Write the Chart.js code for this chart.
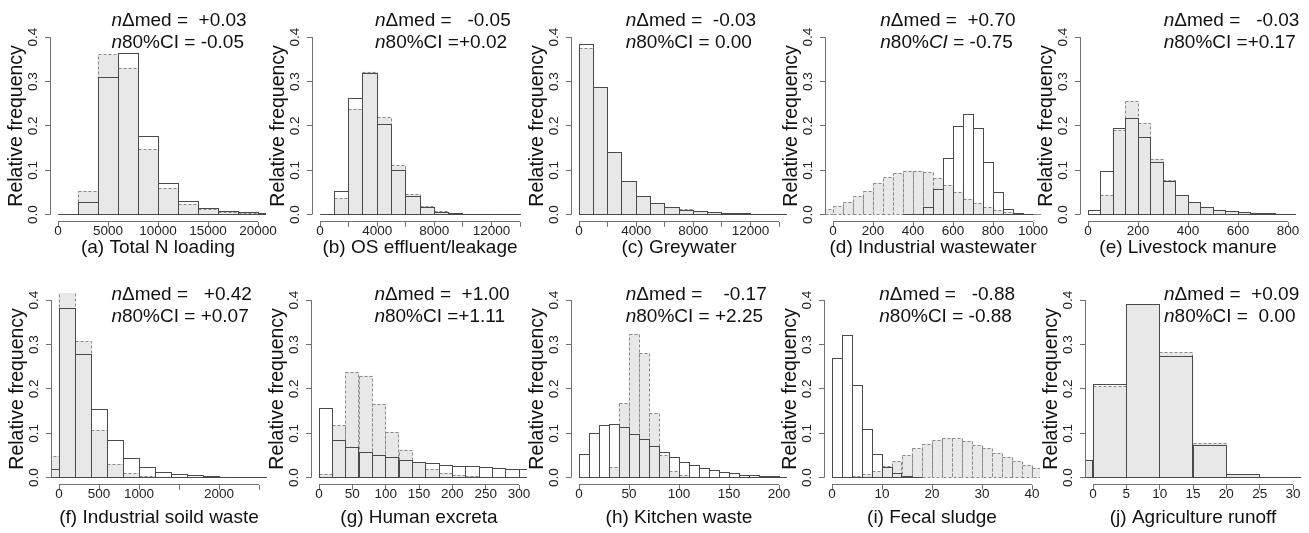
<!DOCTYPE html>
<html>
<head>
<meta charset="utf-8">
<title>Relative frequency histograms</title>
<script src="https://cdn.jsdelivr.net/npm/chart.js@4.4.1/dist/chart.umd.min.js"></script>
<style>
  html, body { margin: 0; padding: 0; background: #fff; }
  body { width: 1309px; height: 533px; position: relative; overflow: hidden; }
  canvas { position: absolute; }
</style>
</head>
<body>
<script>
// lower bin edges, open-bar heights (solid) and grey-bar heights (dashed)
const aBins = [0, 2000, 4000, 6000, 8000, 10000, 12000, 14000, 16000, 18000, 20000];
const aSolid = [0, 0.027, 0.308, 0.363, 0.176, 0.071, 0.029, 0.013, 0.007, 0.004, 0.002];
const aDashed = [0, 0.053, 0.360, 0.330, 0.147, 0.059, 0.023, 0.011, 0.005, 0.003, 0.0015];
const aTicks = [0, 5000, 10000, 15000, 20000];
const aTickLabels = ['0', '5000', '10000', '15000', '20000'];

const bBins = [0, 1000, 2000, 3000, 4000, 5000, 6000, 7000, 8000, 9000, 10000, 11000, 12000, 13000];
const bSolid = [0, 0.052, 0.261, 0.319, 0.203, 0.100, 0.041, 0.016, 0.005, 0.002, 0.001, 0.0005, 0.0003, 0.0002];
const bDashed = [0, 0.037, 0.238, 0.321, 0.218, 0.110, 0.046, 0.018, 0.007, 0.002, 0.001, 0.0005, 0.0003, 0.0002];
const bTicks = [0, 2000, 4000, 6000, 8000, 10000, 12000, 14000];
const bTickLabels = ['0', '', '4000', '', '8000', '', '12000', ''];

const cBins = [0, 1000, 2000, 3000, 4000, 5000, 6000, 7000, 8000, 9000, 10000, 11000, 12000, 13000, 14000];
const cSolid = [0.384, 0.286, 0.141, 0.074, 0.040, 0.026, 0.016, 0.0105, 0.007, 0.0045, 0.003, 0.002, 0.0015, 0.001, 0.0005];
const cDashed = [0.374, 0.286, 0.140, 0.075, 0.041, 0.026, 0.016, 0.011, 0.007, 0.0045, 0.003, 0.002, 0.0015, 0.001, 0.0005];
const cTicks = [0, 2000, 4000, 6000, 8000, 10000, 12000, 14000];
const cTickLabels = ['0', '', '4000', '', '8000', '', '12000', ''];

const dBins = [-50, 0, 50, 100, 150, 200, 250, 300, 350, 400, 450, 500, 550, 600, 650, 700, 750, 800, 850, 900, 950, 1000];
const dSolid = [null, null, null, null, null, null, null, null, 0.001, 0.001, 0.016, 0.056, 0.126, 0.198, 0.226, 0.194, 0.117, 0.050, 0.012, 0.002, 0.0005, null];
const dDashed = [0.011, 0.018, 0.028, 0.040, 0.053, 0.071, 0.083, 0.093, 0.098, 0.098, 0.094, 0.081, 0.066, 0.051, 0.035, 0.025, 0.016, 0.010, 0.005, 0.002, 0.001, 0.0005];
const dTicks = [0, 200, 400, 600, 800, 1000];
const dTickLabels = ['0', '200', '400', '600', '800', '1000'];

const eBins = [0, 50, 100, 150, 200, 250, 300, 350, 400, 450, 500, 550, 600, 650, 700, 750, 800];
const eSolid = [0.010, 0.098, 0.194, 0.216, 0.173, 0.118, 0.074, 0.043, 0.027, 0.016, 0.010, 0.007, 0.0045, 0.003, 0.002, 0.0015, 0.001];
const eDashed = [0, 0.044, 0.189, 0.256, 0.205, 0.125, 0.077, 0.044, 0.028, 0.0165, 0.0105, 0.007, 0.0045, 0.003, 0.002, 0.0015, 0.001];
const eTicks = [0, 200, 400, 600, 800];
const eTickLabels = ['0', '200', '400', '600', '800'];

const fBins = [-200, 0, 200, 400, 600, 800, 1000, 1200, 1400, 1600, 1800, 2000, 2200, 2400];
const fSolid = [0.019, 0.380, 0.278, 0.153, 0.084, 0.044, 0.024, 0.011, 0.007, 0.004, 0.002, 0.0015, 0.001, 0.0005];
const fDashed = [0.047, 0.425, 0.307, 0.106, 0.030, 0.009, 0.003, 0.001, 0.0005, 0.0003, 0.0002, 0.0001, 0, 0];
const fTicks = [0, 500, 1000, 1500, 2000, 2500];
const fTickLabels = ['0', '500', '1000', '', '2000', ''];

const gBins = [0, 20, 40, 60, 80, 100, 120, 140, 160, 180, 200, 220, 240, 260, 280, 300];
const gSolid = [0.156, 0.084, 0.067, 0.056, 0.050, 0.045, 0.038, 0.034, 0.031, 0.028, 0.026, 0.025, 0.0225, 0.020, 0.019, 0.018];
const gDashed = [0.0075, 0.1165, 0.237, 0.229, 0.165, 0.102, 0.062, 0.034, 0.018, 0.0105, 0.005, 0.003, 0.0015, 0.001, 0.0007, 0.0005];
const gTicks = [0, 50, 100, 150, 200, 250, 300];
const gTickLabels = ['0', '50', '100', '150', '200', '250', '300'];

const hBins = [0, 10, 20, 30, 40, 50, 60, 70, 80, 90, 100, 110, 120, 130, 140, 150, 160, 170, 180, 190, 200];
const hSolid = [0.052, 0.100, 0.118, 0.119, 0.113, 0.097, 0.085, 0.070, 0.056, 0.046, 0.035, 0.028, 0.021, 0.016, 0.012, 0.009, 0.006, 0.004, 0.003, 0.002, 0.001];
const hDashed = [null, null, 0, 0.023, 0.167, 0.323, 0.279, 0.144, 0.050, 0.013, 0.004, 0.001, 0.0005, 0, 0, 0, 0, 0, 0, 0, 0];
const hTicks = [0, 50, 100, 150, 200];
const hTickLabels = ['0', '50', '100', '150', '200'];

const iBins = [0, 2, 4, 6, 8, 10, 12, 14, 16, 18, 20, 22, 24, 26, 28, 30, 32, 34, 36, 38, 40];
const iSolid = [0.268, 0.320, 0.207, 0.109, 0.052, 0.023, 0.009, 0.003, 0.001, null, null, null, null, null, null, null, null, null, null, null, null];
const iDashed = [0, 0.001, 0.002, 0.007, 0.013, 0.025, 0.037, 0.050, 0.065, 0.075, 0.0835, 0.088, 0.0875, 0.082, 0.073, 0.066, 0.0555, 0.046, 0.0375, 0.0285, 0.021];
const iTicks = [0, 10, 20, 30, 40];
const iTickLabels = ['0', '10', '20', '30', '40'];

const jBins = [-5, 0, 5, 10, 15, 20, 25, 30];
const jSolid = [0.039, 0.210, 0.389, 0.274, 0.073, 0.007, 0.001, 0];
const jDashed = [0.038, 0.2045, 0.389, 0.282, 0.078, 0.0075, 0.001, 0];
const jTicks = [0, 5, 10, 15, 20, 25, 30];
const jTickLabels = ['0', '5', '10', '15', '20', '25', '30'];

const yTicks = [0, 0.1, 0.2, 0.3, 0.4];
const yTickLabels = ['0.0', '0.1', '0.2', '0.3', '0.4'];

// [text, italic] pieces of the two notes in each panel
const panels = [
  {title: '(a) Total N loading', bins: aBins, solid: aSolid, dashed: aDashed, ticks: aTicks, tickLabels: aTickLabels, xlim: [0, 20000],
   notes: [[['n', 1], ['\u0394med =  +0.03', 0]], [['n', 1], ['80%CI = -0.05', 0]]], plotLeft: 50, row: 0, noteX: 61.4},
  {title: '(b) OS effluent/leakage', bins: bBins, solid: bSolid, dashed: bDashed, ticks: bTicks, tickLabels: bTickLabels, xlim: [0, 14000],
   notes: [[['n', 1], ['\u0394med =   -0.05', 0]], [['n', 1], ['80%CI =+0.02', 0]]], plotLeft: 312, row: 0, noteX: 63},
  {title: '(c) Greywater', bins: cBins, solid: cSolid, dashed: cDashed, ticks: cTicks, tickLabels: cTickLabels, xlim: [0, 14000],
   notes: [[['n', 1], ['\u0394med =  -0.03', 0]], [['n', 1], ['80%CI = 0.00', 0]]], plotLeft: 571, row: 0, noteX: 54.7},
  {title: '(d) Industrial wastewater', bins: dBins, solid: dSolid, dashed: dDashed, ticks: dTicks, tickLabels: dTickLabels, xlim: [0, 1000],
   notes: [[['n', 1], ['\u0394med =  +0.70', 0]], [['n', 1], ['80%', 0], ['CI', 1], [' = -0.75', 0]]], plotLeft: 825, row: 0, noteX: 55.3},
  {title: '(e) Livestock manure', bins: eBins, solid: eSolid, dashed: eDashed, ticks: eTicks, tickLabels: eTickLabels, xlim: [0, 800],
   notes: [[['n', 1], ['\u0394med =   -0.03', 0]], [['n', 1], ['80%CI =+0.17', 0]]], plotLeft: 1080, row: 0, noteX: 83.7},
  {title: '(f) Industrial soild waste', bins: fBins, solid: fSolid, dashed: fDashed, ticks: fTicks, tickLabels: fTickLabels, xlim: [0, 2500],
   notes: [[['n', 1], ['\u0394med =   +0.42', 0]], [['n', 1], ['80%CI = +0.07', 0]]], plotLeft: 51, row: 1, noteX: 60.4},
  {title: '(g) Human excreta', bins: gBins, solid: gSolid, dashed: gDashed, ticks: gTicks, tickLabels: gTickLabels, xlim: [0, 300],
   notes: [[['n', 1], ['\u0394med =  +1.00', 0]], [['n', 1], ['80%CI =+1.11', 0]]], plotLeft: 311, row: 1, noteX: 63.4},
  {title: '(h) Kitchen waste', bins: hBins, solid: hSolid, dashed: hDashed, ticks: hTicks, tickLabels: hTickLabels, xlim: [0, 200],
   notes: [[['n', 1], ['\u0394med =    -0.17', 0]], [['n', 1], ['80%CI = +2.25', 0]]], plotLeft: 571, row: 1, noteX: 54.7},
  {title: '(i) Fecal sludge', bins: iBins, solid: iSolid, dashed: iDashed, ticks: iTicks, tickLabels: iTickLabels, xlim: [0, 40],
   notes: [[['n', 1], ['\u0394med =   -0.88', 0]], [['n', 1], ['80%CI = -0.88', 0]]], plotLeft: 824, row: 1, noteX: 55.3},
  {title: '(j) Agriculture runoff', bins: jBins, solid: jSolid, dashed: jDashed, ticks: jTicks, tickLabels: jTickLabels, xlim: [0, 30],
   notes: [[['n', 1], ['\u0394med =  +0.09', 0]], [['n', 1], ['80%CI =  0.00', 0]]], plotLeft: 1085, row: 1, noteX: 79}
];

const rows = [
  {top: 0, h: 265, padTop: 30, titleOff: 27, noteY: [-9.2, 12.6]},
  {top: 263, h: 270, padTop: 30, titleOff: 34.2, noteY: [1.3, 23.6]}
];

const FONT = '"Liberation Sans", Arial, Helvetica, sans-serif';
Chart.defaults.font.family = FONT;
const AXIS = '#707070', LABEL = '#222', TEXT = '#111';
const FILL = '#e8e8e8', DASH_LINE = '#8a8a8a', SOLID_LINE = '#4a4a4a';
const PLOT_W = 216, PLOT_H = 191.8, AXIS_W = 50, CANVAS_W = 290;
const TICK_SIZE = 13.5;

const crisp = v => Math.round(v - 0.5) + 0.5;

// outline every bar (R style: stroke centred on the edge, dashed or solid)
const outlinePlugin = {
  id: 'outlines',
  afterDatasetDraw(chart, args) {
    const ds = chart.data.datasets[args.index];
    const area = chart.chartArea, ctx = chart.ctx;
    ctx.save();
    ctx.beginPath();
    ctx.rect(area.left, area.top, area.right - area.left, area.bottom - area.top);
    ctx.clip();
    ctx.lineWidth = 1;
    ctx.strokeStyle = ds.lineColor;
    ctx.setLineDash(ds.lineDash);
    args.meta.data.forEach((bar, i) => {
      if (ds.data[i].y === null) return;
      const p = bar.getProps(['x', 'y', 'base', 'width'], true);
      const l = crisp(p.x - p.width / 2), r = crisp(p.x + p.width / 2);
      const t = crisp(p.y), b = crisp(p.base);
      ctx.strokeRect(l, t, r - l, b - t);
    });
    ctx.restore();
  }
};

function axisPlugin(p, row) {
  return {
    id: 'rAxes',
    afterDraw(chart) {
      const ctx = chart.ctx, area = chart.chartArea;
      const x = chart.scales.x, y = chart.scales.y;
      ctx.save();
      // axis lines run from first to last tick, like base R
      ctx.strokeStyle = AXIS;
      ctx.lineWidth = 1;
      ctx.beginPath();
      const ax = crisp(area.left);
      ctx.moveTo(ax, y.getPixelForValue(yTicks[yTicks.length - 1]));
      ctx.lineTo(ax, y.getPixelForValue(yTicks[0]));
      const ay = crisp(area.bottom);
      ctx.moveTo(x.getPixelForValue(p.ticks[0]), ay);
      ctx.lineTo(x.getPixelForValue(p.ticks[p.ticks.length - 1]), ay);
      ctx.stroke();

      // rotated y tick labels
      ctx.fillStyle = LABEL;
      ctx.font = TICK_SIZE + 'px ' + FONT;
      ctx.textAlign = 'center';
      ctx.textBaseline = 'middle';
      yTicks.forEach((v, i) => {
        ctx.save();
        ctx.translate(area.left - 16.8, y.getPixelForValue(v));
        ctx.rotate(-Math.PI / 2);
        ctx.fillText(yTickLabels[i], 0, 0);
        ctx.restore();
      });

      // notes
      ctx.fillStyle = TEXT;
      ctx.textAlign = 'left';
      p.notes.forEach((parts, k) => {
        let xx = area.left + p.noteX;
        const yy = area.top + row.noteY[k];
        parts.forEach(([txt, it]) => {
          ctx.font = (it ? 'italic ' : '') + '19px ' + FONT;
          ctx.fillText(txt, xx, yy);
          xx += ctx.measureText(txt).width;
        });
      });
      ctx.restore();
    }
  };
}

function makePanel(p) {
  const row = rows[p.row];
  const canvas = document.createElement('canvas');
  canvas.width = CANVAS_W;
  canvas.height = row.h;
  canvas.style.left = (p.plotLeft - AXIS_W) + 'px';
  canvas.style.top = row.top + 'px';
  canvas.style.width = CANVAS_W + 'px';
  canvas.style.height = row.h + 'px';
  document.body.appendChild(canvas);

  const w = p.bins[1] - p.bins[0];
  const span = p.xlim[1] - p.xlim[0];
  const xAxisH = row.h - row.padTop - PLOT_H;
  const titleLH = 19 * 1.2;
  const titleCenter = row.padTop + PLOT_H + row.titleOff - 1.5;
  const toPoints = vals => p.bins.map((b, i) => ({x: b + w / 2, y: vals[i]}));

  new Chart(canvas, {
    type: 'bar',
    data: {
      datasets: [
        {label: 'grey', data: toPoints(p.dashed), backgroundColor: FILL, borderWidth: 0, order: 2, clip: 0,
         lineColor: DASH_LINE, lineDash: [3, 2]},
        {label: 'open', data: toPoints(p.solid), backgroundColor: 'rgba(0,0,0,0)', borderWidth: 0, order: 1, clip: 0,
         lineColor: SOLID_LINE, lineDash: []}
      ]
    },
    options: {
      responsive: false,
      animation: false,
      events: [],
      layout: {padding: {top: row.padTop, right: CANVAS_W - AXIS_W - PLOT_W, bottom: 0, left: 0}},
      datasets: {bar: {grouped: false, barPercentage: 1, categoryPercentage: 1}},
      plugins: {legend: {display: false}, tooltip: {enabled: false}},
      scales: {
        x: {
          type: 'linear',
          offset: false,
          min: p.xlim[0] - 0.04 * span,
          max: p.xlim[1] + 0.04 * span,
          afterBuildTicks: s => { s.ticks = p.ticks.map(v => ({value: v})); },
          afterFit: s => { s.height = xAxisH; },
          border: {display: false},
          grid: {offset: false, drawOnChartArea: false, drawTicks: true, tickLength: 5, color: AXIS, lineWidth: 1},
          ticks: {autoSkip: false, maxRotation: 0, minRotation: 0, padding: -2.2, color: LABEL,
                  font: {size: TICK_SIZE, lineHeight: 1}, callback: (v, i) => p.tickLabels[i]},
          title: {display: true, text: p.title, color: TEXT, font: {size: 19, lineHeight: 1.2},
                  padding: {top: 0, bottom: row.h - titleCenter - titleLH / 2}}
        },
        y: {
          min: -0.016,
          max: 0.416,
          afterBuildTicks: s => { s.ticks = yTicks.map(v => ({value: v})); },
          afterFit: s => { s.width = AXIS_W; },
          border: {display: false},
          grid: {drawOnChartArea: false, drawTicks: true, tickLength: 5, color: AXIS, lineWidth: 1},
          ticks: {display: false},
          title: {display: true, text: 'Relative frequency', color: TEXT, font: {size: 19.5, lineHeight: 1.2},
                  padding: {top: 4.6, bottom: 0}}
        }
      }
    },
    plugins: [outlinePlugin, axisPlugin(p, row)]
  });
}

panels.forEach(makePanel);
</script>
</body>
</html>
